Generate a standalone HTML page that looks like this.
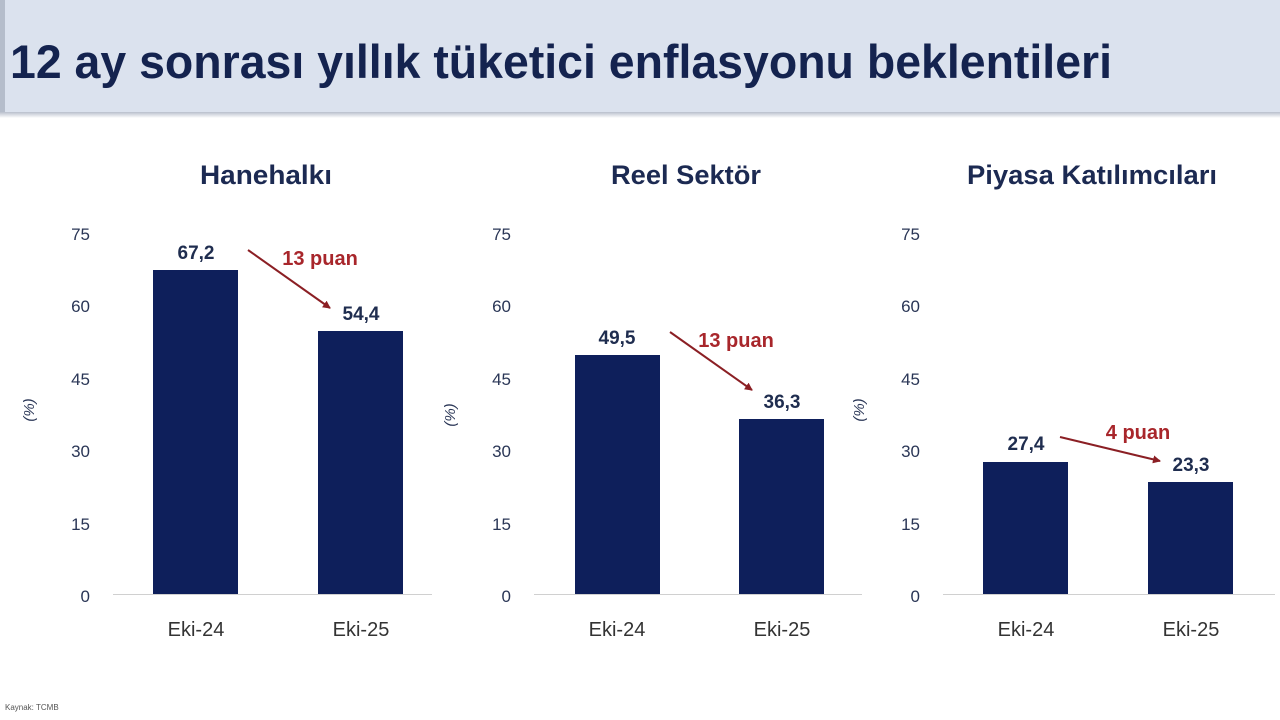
<!DOCTYPE html>
<html><head><meta charset="utf-8"><style>
html,body{margin:0;padding:0;background:#fff;}
svg{display:block;font-family:"Liberation Sans",sans-serif;}
</style></head><body>
<svg width="1280" height="720" viewBox="0 0 1280 720">
<defs>
<linearGradient id="sh" x1="0" y1="0" x2="0" y2="1"><stop offset="0" stop-color="#b8bfcc"/><stop offset="1" stop-color="#fff"/></linearGradient>
<marker id="ah" markerWidth="8" markerHeight="8" refX="7" refY="4" orient="auto" markerUnits="userSpaceOnUse"><path d="M0,0 L8,4 L0,8 z" fill="#8b1f24"/></marker>
</defs>
<rect x="0" y="0" width="1280" height="114" fill="#dbe2ee"/>
<rect x="0" y="0" width="5" height="114" fill="#b5bdcb"/>
<rect x="0" y="112" width="1280" height="6" fill="url(#sh)"/>
<text x="10" y="78" font-size="47" font-weight="bold" fill="#14234f" textLength="1102" lengthAdjust="spacingAndGlyphs">12 ay sonrası yıllık tüketici enflasyonu beklentileri</text>
<text x="5" y="710" font-size="8" fill="#555">Kaynak: TCMB</text>

<g id="c1">
<text x="266" y="184" font-size="27" font-weight="bold" fill="#1c2a52" text-anchor="middle" textLength="132" lengthAdjust="spacingAndGlyphs">Hanehalkı</text>
<g font-size="17" fill="#2a3656" text-anchor="end">
<text x="90" y="240">75</text><text x="90" y="312">60</text><text x="90" y="385">45</text><text x="90" y="457">30</text><text x="90" y="530">15</text><text x="90" y="602">0</text>
</g>
<text transform="translate(34,410) rotate(-90)" font-size="15" font-style="italic" fill="#2a3656" text-anchor="middle">(%)</text>
<line x1="113" y1="594.5" x2="432" y2="594.5" stroke="#d0d0d0" stroke-width="1"/>
<rect x="153" y="270" width="85" height="324" fill="#0e1f5b"/>
<rect x="318" y="331" width="85" height="263" fill="#0e1f5b"/>
<text x="196" y="259" font-size="19" font-weight="bold" fill="#1f2d4f" text-anchor="middle">67,2</text>
<text x="361" y="320" font-size="19" font-weight="bold" fill="#1f2d4f" text-anchor="middle">54,4</text>
<g font-size="20" fill="#333" text-anchor="middle"><text x="196" y="636">Eki-24</text><text x="361" y="636">Eki-25</text></g>
</g>
<text x="320" y="265" font-size="20" font-weight="bold" fill="#a8262b" text-anchor="middle">13 puan</text>
<line x1="248" y1="250" x2="330" y2="308" stroke="#8b1f24" stroke-width="2" marker-end="url(#ah)"/>

<g transform="translate(421,0)">
<g font-size="17" fill="#2a3656" text-anchor="end">
<text x="90" y="240">75</text><text x="90" y="312">60</text><text x="90" y="385">45</text><text x="90" y="457">30</text><text x="90" y="530">15</text><text x="90" y="602">0</text>
</g>
<text transform="translate(34,415) rotate(-90)" font-size="15" font-style="italic" fill="#2a3656" text-anchor="middle">(%)</text>
<line x1="113" y1="594.5" x2="441" y2="594.5" stroke="#d0d0d0" stroke-width="1"/>
<rect x="154" y="355" width="85" height="239" fill="#0e1f5b"/>
<rect x="318" y="419" width="85" height="175" fill="#0e1f5b"/>
<text x="196" y="344" font-size="19" font-weight="bold" fill="#1f2d4f" text-anchor="middle">49,5</text>
<text x="361" y="408" font-size="19" font-weight="bold" fill="#1f2d4f" text-anchor="middle">36,3</text>
<g font-size="20" fill="#333" text-anchor="middle"><text x="196" y="636">Eki-24</text><text x="361" y="636">Eki-25</text></g>
</g>
<text x="686" y="184" font-size="27" font-weight="bold" fill="#1c2a52" text-anchor="middle" textLength="150" lengthAdjust="spacingAndGlyphs">Reel Sektör</text>
<text x="736" y="347" font-size="20" font-weight="bold" fill="#a8262b" text-anchor="middle">13 puan</text>
<line x1="670" y1="332" x2="752" y2="390" stroke="#8b1f24" stroke-width="2" marker-end="url(#ah)"/>

<g transform="translate(830,0)">
<g font-size="17" fill="#2a3656" text-anchor="end">
<text x="90" y="240">75</text><text x="90" y="312">60</text><text x="90" y="385">45</text><text x="90" y="457">30</text><text x="90" y="530">15</text><text x="90" y="602">0</text>
</g>
<text transform="translate(34,410) rotate(-90)" font-size="15" font-style="italic" fill="#2a3656" text-anchor="middle">(%)</text>
<line x1="113" y1="594.5" x2="445" y2="594.5" stroke="#d0d0d0" stroke-width="1"/>
<rect x="153" y="462" width="85" height="132" fill="#0e1f5b"/>
<rect x="318" y="482" width="85" height="112" fill="#0e1f5b"/>
<text x="196" y="450" font-size="19" font-weight="bold" fill="#1f2d4f" text-anchor="middle">27,4</text>
<text x="361" y="471" font-size="19" font-weight="bold" fill="#1f2d4f" text-anchor="middle">23,3</text>
<g font-size="20" fill="#333" text-anchor="middle"><text x="196" y="636">Eki-24</text><text x="361" y="636">Eki-25</text></g>
</g>
<text x="1092" y="184" font-size="27" font-weight="bold" fill="#1c2a52" text-anchor="middle" textLength="250" lengthAdjust="spacingAndGlyphs">Piyasa Katılımcıları</text>
<text x="1138" y="439" font-size="20" font-weight="bold" fill="#a8262b" text-anchor="middle">4 puan</text>
<line x1="1060" y1="437" x2="1160" y2="461" stroke="#8b1f24" stroke-width="2" marker-end="url(#ah)"/>
</svg>
</body></html>
